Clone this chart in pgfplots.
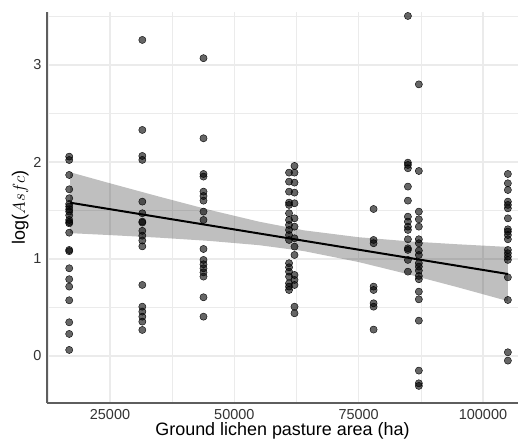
\documentclass[border=0pt]{standalone}
\usepackage{pgfplots}
\pgfplotsset{compat=1.18}
\usepackage{fontspec}
\setmainfont{Liberation Sans}

\definecolor{gridgray}{HTML}{EBEBEB}
\definecolor{axisgray}{HTML}{5E5E5E}

\begin{document}
\begin{tikzpicture}
\begin{axis}[
    scale only axis,
    width=471bp, height=391bp,
    xmin=12332, xmax=107038,
    ymin=-0.485, ymax=3.546,
    axis lines=left,
    axis line style={-, draw=axisgray, line width=1.4bp},
    xtick={25000,50000,75000,100000},
    xticklabels={25000,50000,75000,100000},
    minor xtick={12500,37500,62500,87500},
    ytick={0,1,2,3},
    yticklabels={0,1,2,3},
    minor ytick={-0.5,0.5,1.5,2.5,3.5},
    major tick length=0pt, minor tick length=0pt,
    grid=both,
    major grid style={draw=gridgray, line width=1.1bp},
    minor grid style={draw=gridgray, line width=0.6bp},
    scaled ticks=false,
    ticklabel style={font=\fontsize{14.5}{16}\selectfont, text=black!80},
    xticklabel style={yshift=-3bp},
    yticklabel style={xshift=-2bp},
    xlabel={Ground lichen pasture area (ha)},
    ylabel={log($Asfc$)},
    label style={font=\fontsize{18}{20}\selectfont},
    xlabel style={yshift=4bp},
    ylabel style={yshift=-2bp},
]

% observations
\addplot[only marks, mark=*, mark size=3.6bp,
         mark options={draw=none, fill=black, fill opacity=0.6}]
table {
x y
16800 2.055
16800 2.02
16800 1.866
16800 1.718
16800 1.626
16800 1.567
16800 1.54
16800 1.512
16800 1.488
16800 1.45
16800 1.402
16800 1.38
16800 1.368
16800 1.271
16800 1.093
16800 1.08
16800 0.904
16800 0.791
16800 0.715
16800 0.574
16800 0.347
16800 0.227
16800 0.062
31500 3.258
31500 2.33
31500 2.062
31500 2.021
31500 1.591
31500 1.471
31500 1.385
31500 1.375
31500 1.29
31500 1.24
31500 1.19
31500 1.13
31500 0.732
31500 0.508
31500 0.457
31500 0.405
31500 0.354
31500 0.268
43800 3.07
43800 2.244
43800 1.876
43800 1.849
43800 1.694
43800 1.649
43800 1.601
43800 1.488
43800 1.402
43800 1.103
43800 0.99
43800 0.945
43800 0.904
43800 0.862
43800 0.818
43800 0.605
43800 0.405
61000 1.890
61000 1.797
61000 1.694
61000 1.581
61000 1.557
61000 1.471
61000 1.402
61000 1.351
61000 1.299
61000 1.247
61000 1.196
61000 0.956
61000 0.914
61000 0.869
61000 0.818
61000 0.749
61000 0.715
61000 0.680
62100 1.959
62100 1.890
62100 1.787
62100 1.684
62100 1.574
62100 1.419
62100 1.333
62100 1.213
62100 1.127
62100 1.041
62100 0.835
62100 0.784
62100 0.732
62100 0.508
62100 0.440
78000 1.515
78000 1.196
78000 1.162
78000 0.715
78000 0.68
78000 0.543
78000 0.508
78000 0.272
84900 3.505
84900 1.993
84900 1.969
84900 1.935
84900 1.746
84900 1.601
84900 1.436
84900 1.385
84900 1.333
84900 1.299
84900 1.203
84900 1.11
84900 1.093
84900 0.99
84900 0.869
87100 2.80
87100 1.907
87100 1.488
87100 1.409
87100 1.333
87100 1.203
87100 1.162
87100 1.086
87100 1.041
87100 0.956
87100 0.921
87100 0.88
87100 0.825
87100 0.791
87100 0.663
87100 0.584
87100 0.364
87100 -0.151
87100 -0.282
87100 -0.309
105000 1.876
105000 1.78
105000 1.711
105000 1.591
105000 1.557
105000 1.522
105000 1.419
105000 1.306
105000 1.282
105000 1.247
105000 1.203
105000 1.093
105000 1.059
105000 1.024
105000 0.99
105000 0.811
105000 0.577
105000 0.038
105000 -0.048
};

% confidence band
\addplot[draw=none, fill=black, fill opacity=0.25] coordinates {
    (17000,1.894) (25000,1.780) (35000,1.641) (45000,1.506) (55000,1.384)
    (64000,1.295) (75000,1.224) (85000,1.182) (95000,1.151) (105000,1.124)
    (105000,0.566) (95000,0.707) (85000,0.842) (75000,0.968) (64000,1.081)
    (55000,1.142) (45000,1.186) (35000,1.219) (25000,1.246) (17000,1.266)
} -- cycle;

% fitted line
\addplot[black, line width=2bp] coordinates {(17000,1.580) (105000,0.845)};

\end{axis}
\pgfresetboundingbox
\path[use as bounding box] ([xshift=-47bp,yshift=-44bp]current axis.south west)
    rectangle ([xshift=5bp,yshift=12bp]current axis.north east);
\end{tikzpicture}
\end{document}
